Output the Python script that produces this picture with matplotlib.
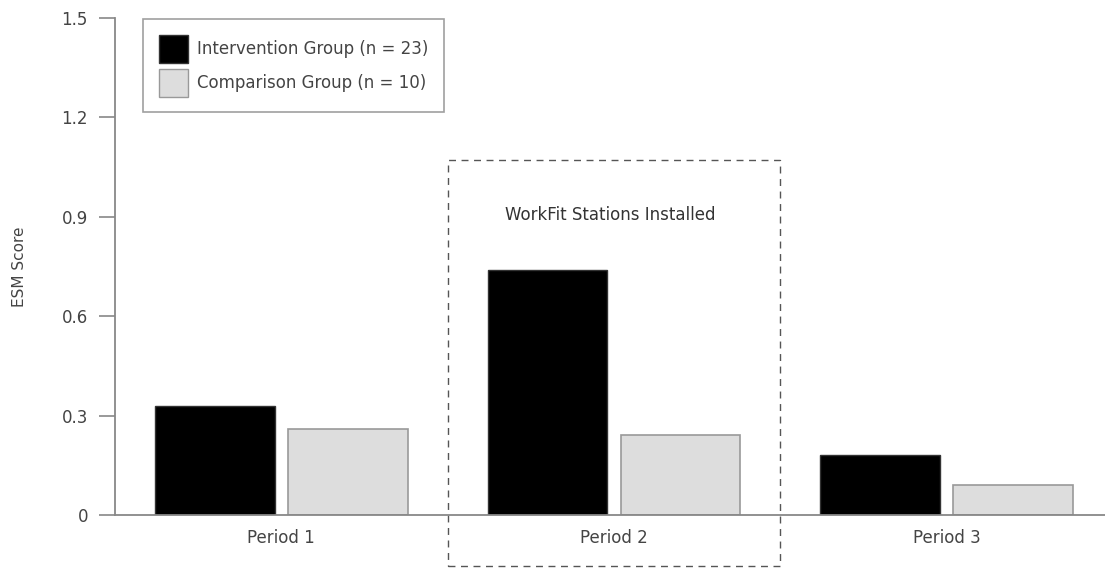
import matplotlib
matplotlib.use("Agg")
import matplotlib.pyplot as plt
from matplotlib.patches import Rectangle, Patch
import numpy as np

plt.rcParams['font.family'] = ['DejaVu Sans']

# 数据
periods = ["Period 1", "Period 2", "Period 3"]
intervention = [0.33, 0.74, 0.18]
comparison = [0.26, 0.24, 0.09]
yticks = [0, 0.3, 0.6, 0.9, 1.2, 1.5]
ytick_labels = ["0", "0.3", "0.6", "0.9", "1.2", "1.5"]
labels = ["Intervention Group (n = 23)", "Comparison Group (n = 10)"]

txt = "#444444"
gray = "#888888"
fs = 12

fig = plt.figure(figsize=(11.05, 5.69), dpi=100)
ax = fig.add_axes([115 / 1105, 54 / 569, 998 / 1105, 497 / 569])

x = np.arange(len(periods))
ax.bar(x - 0.2, intervention, width=0.36, color="black", edgecolor="#333333", linewidth=1, zorder=2)
ax.bar(x + 0.2, comparison, width=0.36, color="#dddddd", edgecolor="#999999", linewidth=1.2, zorder=2)

ax.set_xlim(-0.5, 2.5)
ax.set_ylim(0, 1.5)
ax.set_xticks(x)
ax.set_xticklabels(periods)
ax.set_yticks(yticks)
ax.set_yticklabels(ytick_labels)

for s in ["top", "right"]:
    ax.spines[s].set_visible(False)
for s in ["left", "bottom"]:
    ax.spines[s].set_color(gray)
    ax.spines[s].set_linewidth(1.3)

ax.tick_params(axis="y", length=11.5, width=1.2, color=gray, pad=8, labelsize=fs, labelcolor=txt)
ax.tick_params(axis="x", length=0, pad=10, labelsize=fs, labelcolor=txt)
ax.set_ylabel("ESM Score", fontsize=11, color=txt, labelpad=0)
ax.yaxis.set_label_coords(-88 / 998, 0.5)

# 虚线框：安装期
box = Rectangle((0.5, -0.155), 1.0, 1.225, fill=False, edgecolor="#555555",
                linestyle=(0, (5, 4)), linewidth=1, clip_on=False, zorder=1)
ax.add_patch(box)
ax.text(0.99, 0.905, "WorkFit Stations Installed", ha="center", va="center",
        fontsize=fs, color="#333333")

handles = [Patch(facecolor="black", edgecolor="#333333"),
           Patch(facecolor="#dddddd", edgecolor="#999999")]
leg = fig.legend(handles, labels, loc="upper left",
                 bbox_to_anchor=(143 / 1105, 1 - 19 / 569), borderaxespad=0,
                 fontsize=fs, frameon=True, fancybox=False, borderpad=0.95,
                 handlelength=1.75, handleheight=2.2, handletextpad=0.55,
                 labelspacing=0.35, labelcolor=txt)
leg.get_frame().set_edgecolor(gray)
leg.get_frame().set_linewidth(1.2)

fig.savefig("out.png", dpi=100)
